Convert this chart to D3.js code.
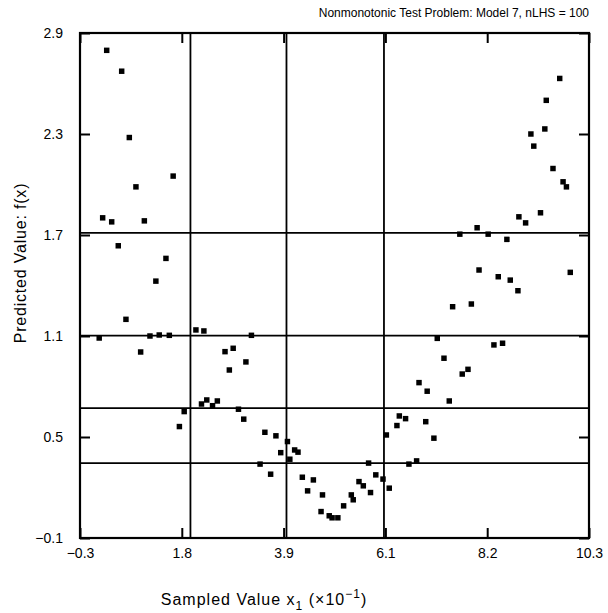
<!DOCTYPE html>
<html>
<head>
<meta charset="utf-8">
<script src="https://cdn.jsdelivr.net/npm/d3@7"></script>
<style>
  body { margin: 0; background: #fff; }
  svg { display: block; }
  text { font-family: "Liberation Sans", Arial, sans-serif; fill: #000; }
</style>
</head>
<body>
<script>
// sampled x1 values (x10^-1) and predicted values f(x)
const xs = [0.256, 0.568, 0.727, 1.64, 0.865, 0.172, 0.36, 1.04, 0.497, 1.49,
  1.28, 0.657, 0.10, 1.157, 1.35, 1.56, 0.963, 2.114, 2.28, 3.27,
  2.72, 2.89, 3.155, 2.81, 1.87, 1.77, 2.23, 2.34, 2.46, 2.56,
  3.0, 3.11, 3.55, 3.78, 4.02, 3.88, 4.17, 4.24, 4.07, 3.45,
  3.67, 4.33, 4.56, 4.44, 4.75, 4.72, 4.89, 4.95, 5.07, 5.19,
  5.35, 5.39, 5.51, 5.60, 5.75, 5.71, 5.86, 6.01, 6.14, 6.08,
  6.30, 6.35, 6.48, 6.55, 6.71, 6.76, 6.93, 6.90, 7.07, 7.39,
  7.14, 7.28, 7.66, 7.78, 7.46, 7.85, 8.32, 8.50, 8.01, 8.41,
  8.66, 8.82, 9.91, 7.61, 8.20, 8.59, 9.69, 9.41, 9.38, 9.09,
  9.15, 9.55, 9.76, 9.83, 9.29, 8.84, 8.98, 7.97];
const ys = [2.797, 2.673, 2.279, 2.05, 1.986, 1.802, 1.778, 1.784, 1.636, 1.561,
  1.426, 1.199, 1.088, 1.10, 1.106, 1.104, 1.005, 1.136, 1.13, 1.104,
  1.007, 1.027, 0.946, 0.898, 0.651, 0.562, 0.696, 0.72, 0.686, 0.714,
  0.665, 0.606, 0.528, 0.507, 0.473, 0.407, 0.423, 0.41, 0.368, 0.339,
  0.279, 0.261, 0.245, 0.18, 0.156, 0.057, 0.032, 0.02, 0.02, 0.091,
  0.156, 0.127, 0.235, 0.21, 0.17, 0.345, 0.275, 0.25, 0.196, 0.512,
  0.568, 0.625, 0.609, 0.339, 0.358, 0.823, 0.772, 0.591, 0.493, 0.714,
  1.086, 0.968, 0.874, 0.902, 1.274, 1.29, 1.047, 1.057, 1.492, 1.452,
  1.432, 1.369, 1.478, 1.705, 1.705, 1.674, 2.63, 2.50, 2.33, 2.30,
  2.228, 2.095, 2.016, 1.986, 1.832, 1.808, 1.772, 1.743];

const xTicks = [-0.3, 1.82, 3.94, 6.06, 8.18, 10.3];
const yTicks = [-0.1, 0.5, 1.1, 1.7, 2.3, 2.9];
// reference lines
const vLines = [2.0, 4.0, 6.03];
const hLines = [1.713, 1.102, 0.671, 0.345];

const W = 608, H = 613;
const m = {left: 80, right: 589, top: 33, bottom: 538};

const svg = d3.select("body").append("svg").attr("width", W).attr("height", H);
const g = svg.append("g");

const x = d3.scaleLinear().domain([-0.3, 10.3]).range([m.left, m.right]);
const y = d3.scaleLinear().domain([-0.1, 2.9]).range([m.bottom, m.top]);

// reference lines
g.append("g").selectAll("line").data(vLines).enter().append("line")
  .attr("x1", d => x(d)).attr("x2", d => x(d))
  .attr("y1", m.top).attr("y2", m.bottom)
  .attr("stroke", "#000").attr("stroke-width", 1.8);
g.append("g").selectAll("line").data(hLines).enter().append("line")
  .attr("y1", d => y(d)).attr("y2", d => y(d))
  .attr("x1", m.left).attr("x2", m.right)
  .attr("stroke", "#000").attr("stroke-width", 1.8);

// axes with inward ticks
const fmt = d3.format(".1f");
const tk = 10;
const axB = g.append("g").attr("transform", `translate(0,${m.bottom})`)
  .call(d3.axisBottom(x).tickValues(xTicks).tickSize(-tk).tickPadding(10).tickFormat(fmt));
const axT = g.append("g").attr("transform", `translate(0,${m.top})`)
  .call(d3.axisTop(x).tickValues(xTicks).tickSize(-tk).tickFormat(""));
const axL = g.append("g").attr("transform", `translate(${m.left},0)`)
  .call(d3.axisLeft(y).tickValues(yTicks).tickSize(-tk).tickPadding(17).tickFormat(fmt));
const axR = g.append("g").attr("transform", `translate(${m.right},0)`)
  .call(d3.axisRight(y).tickValues(yTicks).tickSize(-tk).tickFormat(""));

[axB, axT, axL, axR].forEach(a => {
  a.select(".domain").remove();
  a.selectAll(".tick line").attr("stroke", "#000").attr("stroke-width", 2);
  a.selectAll(".tick text").style("font-size", "14px").attr("fill", "#000")
    .attr("font-family", "'Liberation Sans', Arial, sans-serif");
});

// frame
g.append("rect").attr("x", m.left).attr("y", m.top)
  .attr("width", m.right - m.left).attr("height", m.bottom - m.top)
  .attr("fill", "none").attr("stroke", "#000").attr("stroke-width", 2.2);

// points
g.append("g").selectAll("path").data(xs).enter().append("path")
  .attr("d", d3.symbol().type(d3.symbolSquare).size(30))
  .attr("transform", (d, i) => `translate(${x(d)},${y(ys[i])})`)
  .attr("fill", "#000");

// title
svg.append("text").attr("x", m.right).attr("y", 17)
  .attr("text-anchor", "end").style("font-size", "12px")
  .text("Nonmonotonic Test Problem: Model 7, nLHS = 100");

// x label
const xl = svg.append("text").attr("x", 264).attr("y", 605)
  .attr("text-anchor", "middle").style("font-size", "16px")
  .style("letter-spacing", "1px");
xl.append("tspan").text("Sampled Value x");
xl.append("tspan").attr("dy", 5).style("font-size", "12px").text("1");
xl.append("tspan").attr("dy", -5).text(" (\u00d710");
xl.append("tspan").attr("dy", -7).style("font-size", "12px").text("\u22121");
xl.append("tspan").attr("dy", 7).text(")");

// y label
svg.append("text").attr("transform", "translate(26,263) rotate(-90)")
  .attr("text-anchor", "middle").style("font-size", "16px")
  .style("letter-spacing", "0.8px")
  .text("Predicted Value: f(x)");
</script>
</body>
</html>
